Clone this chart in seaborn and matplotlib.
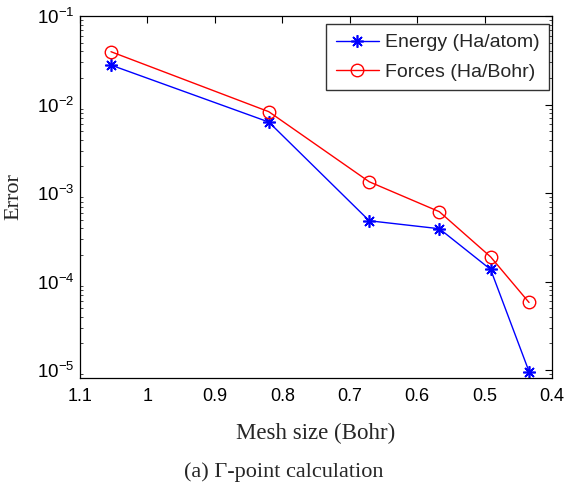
import matplotlib
matplotlib.use("Agg")
import matplotlib.pyplot as plt
import seaborn as sns
import pandas as pd
import numpy as np

mesh_size = [1.054, 0.820, 0.671, 0.567, 0.491, 0.434]
energy_err = [2.79e-2, 6.34e-3, 4.86e-4, 3.95e-4, 1.37e-4, 9.6e-6]
forces_err = [3.95e-2, 8.3e-3, 1.34e-3, 6.15e-4, 1.90e-4, 5.8e-5]
series_names = ["Energy (Ha/atom)", "Forces (Ha/Bohr)"]
x_ticks = [1.1, 1.0, 0.9, 0.8, 0.7, 0.6, 0.5, 0.4]
x_tick_labels = ["1.1", "1", "0.9", "0.8", "0.7", "0.6", "0.5", "0.4"]

sns.set_theme(style="white")
plt.rcParams['font.family'] = ['Liberation Sans', 'DejaVu Sans']
plt.rcParams['mathtext.fontset'] = 'custom'
plt.rcParams['mathtext.rm'] = 'Liberation Sans'
plt.rcParams['mathtext.it'] = 'Liberation Sans:italic'

df_e = pd.DataFrame({"x": mesh_size, "y": energy_err})
df_f = pd.DataFrame({"x": mesh_size, "y": forces_err})

fig = plt.figure(figsize=(5.68, 4.91), dpi=100)
ax = fig.add_axes([0.1408, 0.2301, 0.8310, 0.7373])

sns.lineplot(data=df_e, x="x", y="y", ax=ax, color="blue", marker=(8, 2, 0),
             markersize=9, markeredgecolor="blue", markerfacecolor="blue",
             markeredgewidth=1.2, linewidth=1.0, label=series_names[0], sort=False)
sns.lineplot(data=df_f, x="x", y="y", ax=ax, color="red", marker="o",
             markersize=9, markeredgecolor="red", markerfacecolor="none",
             markeredgewidth=1.0, linewidth=1.0, label=series_names[1], sort=False)

ax.set_yscale("log")
ax.set_xlim(1.1, 0.4)
ax.set_ylim(10 ** (-5.09), 1e-1)
ax.set_xticks(x_ticks)
ax.set_xticklabels(x_tick_labels)
ax.set_yticks([1e-5, 1e-4, 1e-3, 1e-2, 1e-1])

for s in ax.spines.values():
    s.set_color("black")
    s.set_linewidth(0.9)

ax.tick_params(axis="both", which="major", direction="in", length=5, width=0.8,
               top=True, right=True, labelsize=13, colors="black")
ax.tick_params(axis="x", which="major", pad=7)
ax.tick_params(axis="y", which="major", pad=4, labelsize=13.5)
ax.tick_params(axis="y", which="minor", direction="in", length=2.5, width=0.6,
               left=True, right=True)
ax.tick_params(axis="x", which="minor", bottom=False, top=False)

ax.set_xlabel("Mesh size (Bohr)", family=["Liberation Serif"], fontsize=16.5)
ax.xaxis.set_label_coords(0.5, -(433 - 378) / 362, transform=ax.transAxes)
ax.set_ylabel("Error", family=["Liberation Serif"], fontsize=16)
ax.yaxis.set_label_coords(-(80 - 14) / 472, 0.5, transform=ax.transAxes)
ax.xaxis.label.set_va("center")
ax.yaxis.label.set_va("center")

leg = ax.legend(loc="upper right", fontsize=14, frameon=True, fancybox=False,
                edgecolor="black", handlelength=2.2, handletextpad=0.3,
                bbox_to_anchor=(549 / 568, 1 - 24 / 491),
                bbox_transform=fig.transFigure, borderaxespad=0,
                labelspacing=0.6, borderpad=0.5)
leg.get_frame().set_linewidth(1.0)

fig.text(0.5, 1 - 472 / 491, "(a) Γ-point calculation", ha="center", va="center",
         family=["Liberation Serif", "DejaVu Serif"], fontsize=16)

fig.savefig("out.png", dpi=100)
